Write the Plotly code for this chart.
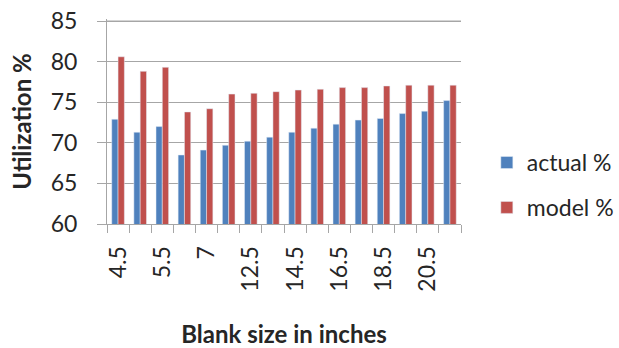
import plotly.graph_objects as go

categories = ["4.5", "5", "5.5", "6", "7", "11.5", "12.5", "13.5", "14.5", "15.5",
              "16.5", "17.5", "18.5", "19.5", "20.5", "21.5"]
actual = [72.9, 71.3, 72.0, 68.5, 69.1, 69.7, 70.2, 70.7, 71.3, 71.8,
          72.3, 72.8, 73.0, 73.6, 73.9, 75.2]
model = [80.6, 78.8, 79.3, 73.8, 74.2, 76.0, 76.1, 76.3, 76.5, 76.6,
         76.8, 76.8, 77.0, 77.1, 77.1, 77.1]
y_ticks = [60, 65, 70, 75, 80, 85]
tick_text = [c if i % 2 == 0 else "" for i, c in enumerate(categories)]

FONT = "Lato, 'Open Sans', sans-serif"
TXT = "#262626"
GRID = "#A6A6A6"

fig = go.Figure()
fig.add_trace(go.Bar(x=categories, y=actual, name="actual %", marker_color="#4F81BD",
                     legendgroup="a"))
fig.add_trace(go.Bar(x=categories, y=model, name="model %", marker_color="#C0504D",
                     legendgroup="m"))

# top gridline (Plotly may drop the gridline at the range edge)
fig.add_shape(type="line", xref="x domain", x0=0, x1=1, yref="y",
              y0=y_ticks[-1], y1=y_ticks[-1], layer="above",
              line=dict(color=GRID, width=1))

fig.update_layout(
    width=619, height=348,
    margin=dict(l=107, r=158, t=19, b=124, autoexpand=False),
    paper_bgcolor="white", plot_bgcolor="white",
    barmode="group", bargap=0.43, bargroupgap=0,
    font=dict(family=FONT, color=TXT),
    legend=dict(x=1.073, y=0.19, xanchor="left", yanchor="middle",
                font=dict(size=23, family=FONT, color=TXT),
                traceorder="grouped", tracegroupgap=12, itemwidth=30),
    showlegend=True,
)
fig.update_yaxes(
    range=[60, 85.25], tickvals=y_ticks, automargin=False,
    showgrid=True, gridcolor=GRID, gridwidth=1,
    showline=True, linecolor=GRID, linewidth=1,
    ticks="outside", ticklen=9, tickcolor=GRID, ticklabelstandoff=15,
    tickfont=dict(size=23, family=FONT, color=TXT),
    title=dict(text="<b>Utilization %</b>", font=dict(size=24, family=FONT, color=TXT),
               standoff=12),
    zeroline=False,
)
fig.update_xaxes(
    type="category", automargin=False,
    tickmode="array", tickvals=categories, ticktext=tick_text,
    tickangle=-90, tickson="boundaries",
    showline=True, linecolor=GRID, linewidth=1,
    ticks="outside", ticklen=8, tickcolor=GRID, ticklabelstandoff=12,
    tickfont=dict(size=23, family=FONT, color=TXT),
    title=dict(text="<b>Blank size in inches</b>", font=dict(size=24, family=FONT, color=TXT),
               standoff=36),
    showgrid=False,
)

fig.write_html("out.html", config={"displayModeBar": False},
               post_script="document.body.style.margin='0';")
